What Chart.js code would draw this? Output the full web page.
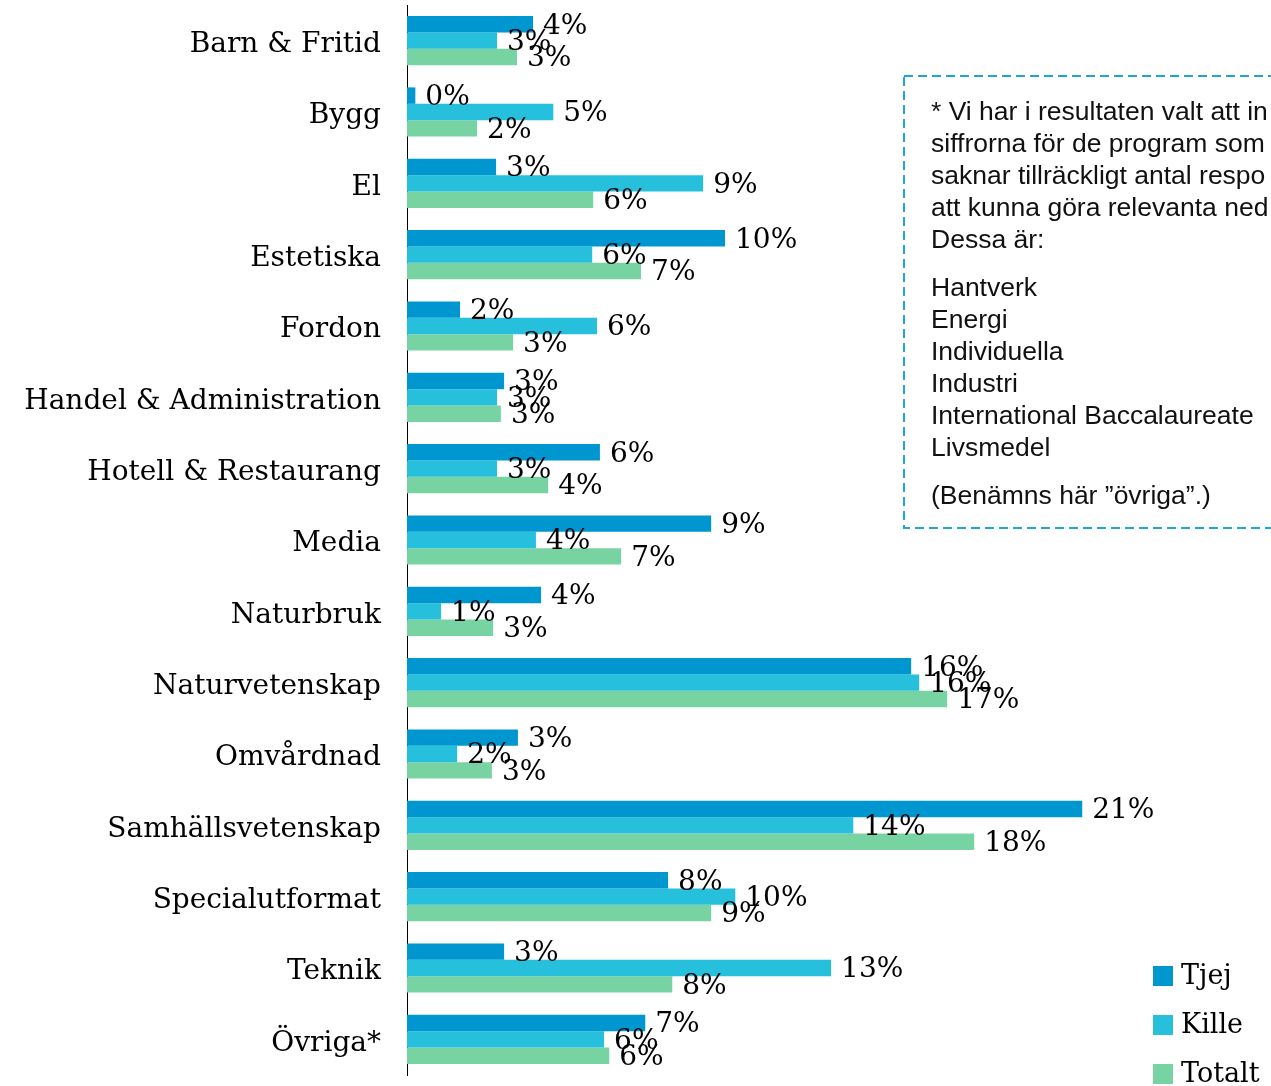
<!DOCTYPE html>
<html>
<head>
<meta charset="utf-8">
<script src="https://cdn.jsdelivr.net/npm/chart.js@4"></script>
<style>
	html, body { margin: 0; padding: 0; background: #fff; overflow: hidden; }
	body { width: 1271px; height: 1086px; position: relative; }
	#chart { position: absolute; left: 0; top: 0; }
	.note {
		position: absolute; left: 905px; top: 77px; width: 420px; height: 450px;
		font-family: "Liberation Sans", Arial, sans-serif; font-size: 26.5px; color: #111;
		padding: 18px 0 0 26px; line-height: 32px; white-space: nowrap; box-sizing: border-box;
	}
	.note p { margin: 0 0 16px 0; }
</style>
</head>
<body>
<canvas id="chart" width="1271" height="1086"></canvas>
<div class="note">
	<p>* Vi har i resultaten valt att in<br>siffrorna för de program som<br>saknar tillräckligt antal respo<br>att kunna göra relevanta ned<br>Dessa är:</p>
	<p>Hantverk<br>Energi<br>Individuella<br>Industri<br>International Baccalaureate<br>Livsmedel</p>
	<p>(Benämns här ”övriga”.)</p>
</div>
<script>
const programs = [
	"Barn & Fritid", "Bygg", "El", "Estetiska", "Fordon",
	"Handel & Administration", "Hotell & Restaurang", "Media", "Naturbruk",
	"Naturvetenskap", "Omvårdnad", "Samhällsvetenskap", "Specialutformat",
	"Teknik", "Övriga*"
];
const tjej   = [3.92, 0.26, 2.77, 9.89, 1.65, 3.02, 6.00, 9.46, 4.17, 15.68, 3.45, 21.0, 8.12, 3.02, 7.41];
const kille  = [2.80, 4.55, 9.21, 5.76, 5.91, 2.80, 2.80, 4.01, 1.06, 15.93, 1.56, 13.88, 10.21, 13.19, 6.13];
const totalt = [3.42, 2.18, 5.79, 7.28, 3.30, 2.92, 4.39, 6.66, 2.68, 16.80, 2.64, 17.64, 9.46, 8.25, 6.29];

const serif = "'DejaVu Serif', serif";

const valueLabels = {
	id: "valueLabels",
	afterDatasetsDraw(chart) {
		const ctx = chart.ctx;
		ctx.save();
		ctx.font = "28px " + serif;
		ctx.fillStyle = "#000";
		ctx.textAlign = "left";
		ctx.textBaseline = "middle";
		chart.data.datasets.forEach((ds, i) => {
			chart.getDatasetMeta(i).data.forEach((bar, j) => {
				ctx.fillText(Math.round(ds.data[j]) + "%", bar.x + 10, bar.y + 2);
			});
		});
		ctx.restore();
	}
};

// legend at the bottom right + dashed frame of the note
const sideLegend = {
	id: "sideLegend",
	afterDraw(chart) {
		const ctx = chart.ctx;
		ctx.save();
		ctx.font = "27px " + serif;
		ctx.textBaseline = "middle";
		chart.data.datasets.forEach((ds, i) => {
			const y = 966 + i * 49;
			ctx.fillStyle = ds.backgroundColor;
			ctx.fillRect(1153, y, 20, 20);
			ctx.fillStyle = "#000";
			ctx.fillText(ds.label, 1181, y + 11);
		});
		ctx.strokeStyle = "#1ea5dc";
		ctx.lineWidth = 2;
		ctx.setLineDash([9, 5]);
		ctx.strokeRect(904, 76, 400, 452);
		ctx.restore();
	}
};

new Chart(document.getElementById("chart"), {
	type: "bar",
	data: {
		labels: programs,
		datasets: [
			{ label: "Tjej", data: tjej, backgroundColor: "#0096cf" },
			{ label: "Kille", data: kille, backgroundColor: "#26c0dc" },
			{ label: "Totalt", data: totalt, backgroundColor: "#78d3a3" }
		]
	},
	options: {
		indexAxis: "y",
		responsive: false,
		animation: false,
		layout: { padding: { top: 5, bottom: 11, left: 0, right: 28 } },
		datasets: { bar: { categoryPercentage: 0.69, barPercentage: 1.0 } },
		plugins: { legend: { display: false }, tooltip: { enabled: false } },
		scales: {
			x: { display: false, min: 0, max: 26 },
			y: {
				afterFit(scale) {
					scale.width = 407;
					scale.paddingTop = 0;
					scale.paddingBottom = 0;
				},
				grid: { display: false, drawTicks: false },
				border: { display: true, color: "#000", width: 1 },
				ticks: { padding: 26, labelOffset: 4, color: "#000", font: { family: serif, size: 28 } }
			}
		}
	},
	plugins: [valueLabels, sideLegend]
});
</script>
</body>
</html>
